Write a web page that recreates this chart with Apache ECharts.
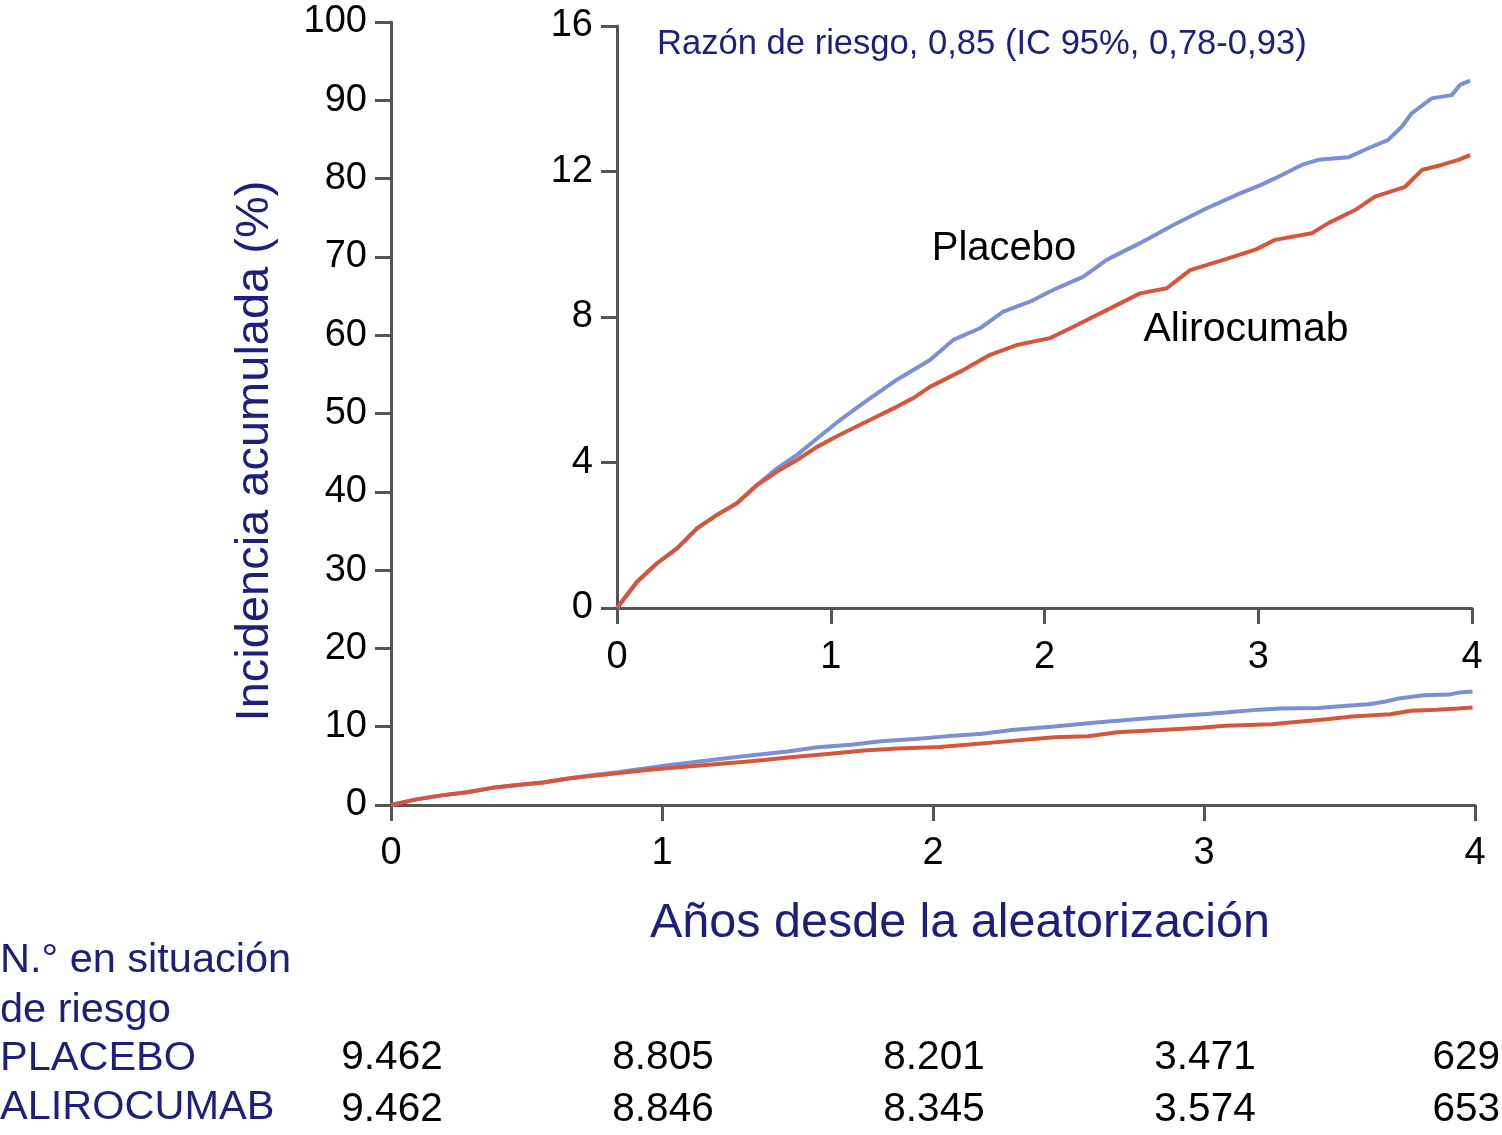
<!DOCTYPE html>
<html><head><meta charset="utf-8">
<script src="https://cdn.jsdelivr.net/npm/echarts@6/dist/echarts.min.js"></script>
<style>html,body{margin:0;padding:0;background:#fff}#c{width:1502px;height:1135px}</style>
</head><body><div id="c"></div>
<script>
// ---- data ----
const placeboT = [0, 0.094, 0.187, 0.281, 0.374, 0.468, 0.561, 0.655, 0.749, 0.842, 0.936, 1.029, 1.152, 1.308, 1.464, 1.573, 1.698, 1.807, 1.932, 2.026, 2.073, 2.182, 2.291, 2.447, 2.603, 2.759, 2.915, 3.008, 3.078, 3.203, 3.281, 3.421, 3.515, 3.608, 3.671, 3.718, 3.811, 3.905, 3.944, 3.991];
const placeboV = [0, 0.72, 1.23, 1.64, 2.19, 2.56, 2.88, 3.38, 3.84, 4.21, 4.66, 5.1, 5.63, 6.27, 6.82, 7.37, 7.69, 8.15, 8.42, 8.7, 8.83, 9.11, 9.57, 10.03, 10.53, 10.99, 11.4, 11.62, 11.81, 12.18, 12.32, 12.39, 12.64, 12.87, 13.23, 13.6, 14.01, 14.1, 14.38, 14.5];
const aliroT = [0, 0.094, 0.187, 0.281, 0.374, 0.468, 0.561, 0.655, 0.749, 0.842, 0.936, 1.029, 1.152, 1.308, 1.386, 1.464, 1.62, 1.745, 1.87, 2.026, 2.135, 2.291, 2.447, 2.572, 2.681, 2.837, 2.99, 3.078, 3.25, 3.328, 3.453, 3.546, 3.687, 3.765, 3.858, 3.936, 3.991];
const aliroV = [0, 0.72, 1.23, 1.64, 2.19, 2.56, 2.88, 3.38, 3.75, 4.07, 4.43, 4.72, 5.08, 5.53, 5.77, 6.08, 6.54, 6.96, 7.23, 7.42, 7.73, 8.19, 8.65, 8.79, 9.29, 9.57, 9.86, 10.12, 10.3, 10.58, 10.94, 11.31, 11.58, 12.04, 12.18, 12.32, 12.45];
const xTicks = [0, 1, 2, 3, 4];
const mainYRange = [0, 100, 10];
const insetYRange = [0, 16, 4];
const seriesNames = ['Placebo', 'Alirocumab'];
const riskTitle = ['N.° en situación', 'de riesgo'];
const riskGroups = ['PLACEBO', 'ALIROCUMAB'];
const riskPlacebo = ['9.462', '8.805', '8.201', '3.471', '629'];
const riskAliro = ['9.462', '8.846', '8.345', '3.574', '653'];
const hrText = 'Razón de riesgo, 0,85 (IC 95%, 0,78-0,93)';
const yTitle = 'Incidencia acumulada (%)';
const xTitle = 'Años desde la aleatorización';

// ---- style ----
const FONT = '"Liberation Sans", Arial, Helvetica, sans-serif';
const NAVY = '#1c1f7c';
const BLUE = '#7b90d4';
const RED = '#d6563c';
const AX = '#555555';

const zip = (t, v) => t.map((x, i) => [x, v[i]]);

function xAxisCfg(grid, margin) {
  return {
    type: 'value', gridIndex: grid, min: xTicks[0], max: xTicks[xTicks.length - 1], interval: 1,
    axisLine: { show: true, onZero: false, lineStyle: { color: AX, width: 3 } },
    axisTick: { show: true, length: 16, lineStyle: { color: AX, width: 3 } },
    axisLabel: { fontSize: 38, color: '#000', fontFamily: FONT, margin: margin },
    splitLine: { show: false }
  };
}
function yAxisCfg(grid, r) {
  return {
    type: 'value', gridIndex: grid, min: r[0], max: r[1], interval: r[2],
    axisLine: { show: true, onZero: false, lineStyle: { color: AX, width: 3 } },
    axisTick: { show: true, length: 16, lineStyle: { color: AX, width: 3 } },
    axisLabel: { fontSize: 38, color: '#000', fontFamily: FONT, margin: 24 },
    splitLine: { show: false }
  };
}
function lineSeries(name, data, color, xi, yi) {
  return {
    name: name, type: 'line', xAxisIndex: xi, yAxisIndex: yi, data: data,
    showSymbol: false, symbol: 'none', smooth: false, silent: true,
    lineStyle: { color: color, width: 4 }, z: 3
  };
}

const chart = echarts.init(document.getElementById('c'), null, { renderer: 'canvas' });
chart.setOption({
  animation: false,
  backgroundColor: '#ffffff',
  grid: [
    { left: 391, right: 27, top: 22, bottom: 330 },
    { left: 617, right: 30, top: 26, bottom: 527 }
  ],
  xAxis: [xAxisCfg(0, 30), xAxisCfg(1, 31)],
  yAxis: [yAxisCfg(0, mainYRange), yAxisCfg(1, insetYRange)],
  series: [
    lineSeries(seriesNames[0], zip(placeboT, placeboV), BLUE, 0, 0),
    lineSeries(seriesNames[1], zip(aliroT, aliroV), RED, 0, 0),
    lineSeries(seriesNames[0], zip(placeboT, placeboV), BLUE, 1, 1),
    lineSeries(seriesNames[1], zip(aliroT, aliroV), RED, 1, 1)
  ]
});

// ---- annotations & risk table ----
const g = [];
const txt = (x, y, text, opts) => g.push({
  type: 'text', x: x, y: y, rotation: opts.rot || 0,
  style: { text: text, fontSize: opts.size, fill: opts.color || '#000', fontFamily: FONT,
    align: opts.align || 'left', verticalAlign: 'middle' }
});
txt(657, 44, hrText, { size: 34.6, color: NAVY });
txt(1004, 249, seriesNames[0], { size: 40, align: 'center' });
txt(1246, 330, seriesNames[1], { size: 41, align: 'center' });
g.push({ type: 'text', x: 255, y: 451, rotation: Math.PI / 2,
  style: { text: yTitle, fontSize: 47, fill: NAVY, fontFamily: FONT, align: 'center', verticalAlign: 'middle' } });
txt(960, 924, xTitle, { size: 48.5, color: NAVY, align: 'center' });
txt(0, 961, riskTitle[0], { size: 41.5, color: NAVY });
txt(0, 1011, riskTitle[1], { size: 41.5, color: NAVY });
txt(0, 1059, riskGroups[0], { size: 41.5, color: NAVY });
txt(0, 1108, riskGroups[1], { size: 41.5, color: NAVY });
const rows = [[riskPlacebo, 1058], [riskAliro, 1110]];
rows.forEach(([vals, y]) => {
  vals.forEach((v, i) => {
    const px = chart.convertToPixel({ xAxisIndex: 0 }, xTicks[i]);
    if (i === vals.length - 1) txt(1500, y, v, { size: 40.5, align: 'right' });
    else txt(px + 1, y, v, { size: 40.5, align: 'center' });
  });
});
chart.setOption({ graphic: { elements: g } });
</script>
</body></html>
